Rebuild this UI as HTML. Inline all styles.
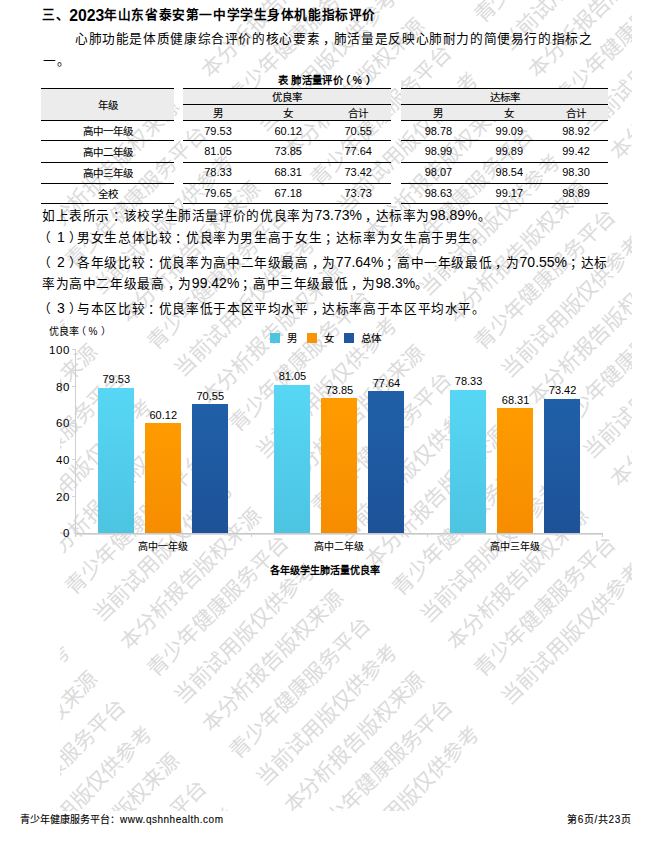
<!DOCTYPE html>
<html lang="zh-CN">
<head>
<meta charset="utf-8">
<style>
*{margin:0;padding:0;box-sizing:border-box}
html,body{width:652px;height:841px;background:#fff;overflow:hidden}
body{position:relative;font-family:"Liberation Sans",sans-serif;color:#000}
.a{position:absolute;white-space:nowrap}
.t{font-size:12.7px;line-height:20px;letter-spacing:0.62px}
.lp{position:relative;left:-4px}.rp{position:relative;left:5.5px}.dn{position:relative;left:1.3px}
.d{font-size:14px;letter-spacing:0;display:inline-block;transform:scaleY(1.08);transform-origin:0 80%}
.pu{position:relative;left:3px}
.title{left:42px;top:4.2px;font-size:12.7px;font-weight:bold;line-height:20px;letter-spacing:0.58px}
.cap{left:278px;top:71px;font-size:10.3px;font-weight:bold;line-height:20px;letter-spacing:0.3px}
.hl{position:absolute;height:1px;background:#000}
.gbg{position:absolute;background:#ececec}
.c{position:absolute;text-align:center;font-size:10.5px;line-height:20px;white-space:nowrap;padding-top:1px;-webkit-text-stroke:0.1px #000}
.n{font-size:11px;padding-top:0;-webkit-text-stroke:0}
.ax{position:absolute;font-size:11.5px;line-height:14px;text-align:right;width:30px;letter-spacing:0.7px;margin-left:2.2px}
.bar{position:absolute;width:36.2px}
.b1{background:linear-gradient(#57d7f5,#4cc4e2)}
.b2{background:linear-gradient(#ff9b00,#f68d00)}
.b3{background:linear-gradient(#2060a8,#1d5298)}
.vl{position:absolute;font-size:11px;line-height:14px;width:50px;text-align:center}
.xl{position:absolute;font-size:10px;line-height:14px;width:80px;text-align:center;padding-top:0.7px;-webkit-text-stroke:0.1px #000}
.lg{position:absolute;width:10px;height:10px}
.l1{background:#4cc4e2}.l2{background:#f89408}.l3{background:#1f589f}
.lt{position:absolute;font-size:10.5px;line-height:14px;-webkit-text-stroke:0.1px #000}
.foot{position:absolute;font-size:10px;line-height:14px;-webkit-text-stroke:0.1px #000}
.wm{position:absolute;left:0;top:0}
</style>
</head>
<body>
<svg class="wm" width="652" height="841" viewBox="0 0 652 841"><defs><clipPath id="wc"><rect x="60" y="0" width="572" height="811"/></clipPath></defs><g clip-path="url(#wc)"><g transform="rotate(-45)" font-family="Liberation Serif, serif" font-size="21" fill="#dbdbdb"><text x="-1293.00" y="204.17">本分析报告版权来源　　本分析报告版权来源　　本分析报告版权来源　　本分析报告版权来源　　本分析报告版权来源　　本分析报告版权来源　　本分析报告版权来源　　本分析报告版权来源　　本分析报告版权来源</text><text x="-1293.00" y="242.74">青少年健康服务平台　　青少年健康服务平台　　青少年健康服务平台　　青少年健康服务平台　　青少年健康服务平台　　青少年健康服务平台　　青少年健康服务平台　　青少年健康服务平台　　青少年健康服务平台</text><text x="-1293.00" y="281.31">当前试用版仅供参考　　当前试用版仅供参考　　当前试用版仅供参考　　当前试用版仅供参考　　当前试用版仅供参考　　当前试用版仅供参考　　当前试用版仅供参考　　当前试用版仅供参考　　当前试用版仅供参考</text><text x="-1293.00" y="319.88">本分析报告版权来源　　本分析报告版权来源　　本分析报告版权来源　　本分析报告版权来源　　本分析报告版权来源　　本分析报告版权来源　　本分析报告版权来源　　本分析报告版权来源　　本分析报告版权来源</text><text x="-1293.00" y="358.46">青少年健康服务平台　　青少年健康服务平台　　青少年健康服务平台　　青少年健康服务平台　　青少年健康服务平台　　青少年健康服务平台　　青少年健康服务平台　　青少年健康服务平台　　青少年健康服务平台</text><text x="-1293.00" y="397.03">当前试用版仅供参考　　当前试用版仅供参考　　当前试用版仅供参考　　当前试用版仅供参考　　当前试用版仅供参考　　当前试用版仅供参考　　当前试用版仅供参考　　当前试用版仅供参考　　当前试用版仅供参考</text><text x="-1293.00" y="435.60">本分析报告版权来源　　本分析报告版权来源　　本分析报告版权来源　　本分析报告版权来源　　本分析报告版权来源　　本分析报告版权来源　　本分析报告版权来源　　本分析报告版权来源　　本分析报告版权来源</text><text x="-1293.00" y="474.18">青少年健康服务平台　　青少年健康服务平台　　青少年健康服务平台　　青少年健康服务平台　　青少年健康服务平台　　青少年健康服务平台　　青少年健康服务平台　　青少年健康服务平台　　青少年健康服务平台</text><text x="-1293.00" y="512.75">当前试用版仅供参考　　当前试用版仅供参考　　当前试用版仅供参考　　当前试用版仅供参考　　当前试用版仅供参考　　当前试用版仅供参考　　当前试用版仅供参考　　当前试用版仅供参考　　当前试用版仅供参考</text><text x="-1293.00" y="551.32">本分析报告版权来源　　本分析报告版权来源　　本分析报告版权来源　　本分析报告版权来源　　本分析报告版权来源　　本分析报告版权来源　　本分析报告版权来源　　本分析报告版权来源　　本分析报告版权来源</text><text x="-1293.00" y="589.89">青少年健康服务平台　　青少年健康服务平台　　青少年健康服务平台　　青少年健康服务平台　　青少年健康服务平台　　青少年健康服务平台　　青少年健康服务平台　　青少年健康服务平台　　青少年健康服务平台</text><text x="-1293.00" y="628.47">当前试用版仅供参考　　当前试用版仅供参考　　当前试用版仅供参考　　当前试用版仅供参考　　当前试用版仅供参考　　当前试用版仅供参考　　当前试用版仅供参考　　当前试用版仅供参考　　当前试用版仅供参考</text><text x="-1293.00" y="667.04">本分析报告版权来源　　本分析报告版权来源　　本分析报告版权来源　　本分析报告版权来源　　本分析报告版权来源　　本分析报告版权来源　　本分析报告版权来源　　本分析报告版权来源　　本分析报告版权来源</text><text x="-1293.00" y="705.61">青少年健康服务平台　　青少年健康服务平台　　青少年健康服务平台　　青少年健康服务平台　　青少年健康服务平台　　青少年健康服务平台　　青少年健康服务平台　　青少年健康服务平台　　青少年健康服务平台</text><text x="-1293.00" y="744.18">当前试用版仅供参考　　当前试用版仅供参考　　当前试用版仅供参考　　当前试用版仅供参考　　当前试用版仅供参考　　当前试用版仅供参考　　当前试用版仅供参考　　当前试用版仅供参考　　当前试用版仅供参考</text><text x="-1293.00" y="782.76">本分析报告版权来源　　本分析报告版权来源　　本分析报告版权来源　　本分析报告版权来源　　本分析报告版权来源　　本分析报告版权来源　　本分析报告版权来源　　本分析报告版权来源　　本分析报告版权来源</text><text x="-1293.00" y="821.33">青少年健康服务平台　　青少年健康服务平台　　青少年健康服务平台　　青少年健康服务平台　　青少年健康服务平台　　青少年健康服务平台　　青少年健康服务平台　　青少年健康服务平台　　青少年健康服务平台</text><text x="-1293.00" y="859.90">当前试用版仅供参考　　当前试用版仅供参考　　当前试用版仅供参考　　当前试用版仅供参考　　当前试用版仅供参考　　当前试用版仅供参考　　当前试用版仅供参考　　当前试用版仅供参考　　当前试用版仅供参考</text></g></g></svg>
<div class="a title">三、<span style="font-size:15.8px;letter-spacing:0;position:relative;top:1.9px">2023</span>年山东省泰安第一中学学生身体机能指标评价</div>
<div class="a t" style="left:75px;top:29px">心肺功能是体质健康综合评价的核心要素<span class="pu">，</span>肺活量是反映心肺耐力的简便易行的指标之</div>
<div class="a t" style="left:43px;top:51.4px">一。</div>
<div class="a cap">表 肺活量评价<span style="margin-left:-3px">（</span><span style="margin:0 4px 0 2.4px;letter-spacing:0">%</span>）</div>

<!-- table backgrounds -->
<div class="gbg" style="left:41px;top:89px;width:133px;height:31px"></div>
<div class="gbg" style="left:183px;top:89px;width:208px;height:31px"></div>
<div class="gbg" style="left:401px;top:89px;width:207px;height:31px"></div>
<!-- lines group1 -->
<div class="hl" style="left:41px;width:133px;top:88px"></div>
<div class="hl" style="left:41px;width:133px;top:120px"></div>
<div class="hl" style="left:41px;width:133px;top:140px"></div>
<div class="hl" style="left:41px;width:133px;top:162px"></div>
<div class="hl" style="left:41px;width:133px;top:183px"></div>
<div class="hl" style="left:41px;width:133px;top:203px"></div>
<!-- group2 -->
<div class="hl" style="left:183px;width:208px;top:88px"></div>
<div class="hl" style="left:183px;width:208px;top:104px"></div>
<div class="hl" style="left:183px;width:208px;top:120px"></div>
<div class="hl" style="left:183px;width:208px;top:140px"></div>
<div class="hl" style="left:183px;width:208px;top:162px"></div>
<div class="hl" style="left:183px;width:208px;top:183px"></div>
<div class="hl" style="left:183px;width:208px;top:203px"></div>
<!-- group3 -->
<div class="hl" style="left:401px;width:207px;top:88px"></div>
<div class="hl" style="left:401px;width:207px;top:104px"></div>
<div class="hl" style="left:401px;width:207px;top:120px"></div>
<div class="hl" style="left:401px;width:207px;top:140px"></div>
<div class="hl" style="left:401px;width:207px;top:162px"></div>
<div class="hl" style="left:401px;width:207px;top:183px"></div>
<div class="hl" style="left:401px;width:207px;top:203px"></div>

<!-- header text -->
<div class="c" style="left:41px;width:133px;top:94px">年级</div>
<div class="c" style="left:183px;width:208px;top:86px">优良率</div>
<div class="c" style="left:401px;width:207px;top:86px">达标率</div>
<div class="c" style="left:183.0px;width:70px;top:102px">男</div>
<div class="c" style="left:253.2px;width:70px;top:102px">女</div>
<div class="c" style="left:323.2px;width:70px;top:102px">合计</div>
<div class="c" style="left:403.4px;width:70px;top:102px">男</div>
<div class="c" style="left:474.3px;width:70px;top:102px">女</div>
<div class="c" style="left:541.0px;width:70px;top:102px">合计</div>

<!-- rows -->
<div class="c" style="left:41px;width:133px;top:120px">高中一年级</div>
<div class="c" style="left:41px;width:133px;top:141px">高中二年级</div>
<div class="c" style="left:41px;width:133px;top:162px">高中三年级</div>
<div class="c" style="left:41px;width:133px;top:183px">全校</div>

<div class="c n" style="left:183.0px;width:70px;top:121px">79.53</div>
<div class="c n" style="left:253.2px;width:70px;top:121px">60.12</div>
<div class="c n" style="left:323.2px;width:70px;top:121px">70.55</div>
<div class="c n" style="left:403.4px;width:70px;top:121px">98.78</div>
<div class="c n" style="left:474.3px;width:70px;top:121px">99.09</div>
<div class="c n" style="left:541.0px;width:70px;top:121px">98.92</div>

<div class="c n" style="left:183.0px;width:70px;top:141px">81.05</div>
<div class="c n" style="left:253.2px;width:70px;top:141px">73.85</div>
<div class="c n" style="left:323.2px;width:70px;top:141px">77.64</div>
<div class="c n" style="left:403.4px;width:70px;top:141px">98.99</div>
<div class="c n" style="left:474.3px;width:70px;top:141px">99.89</div>
<div class="c n" style="left:541.0px;width:70px;top:141px">99.42</div>

<div class="c n" style="left:183.0px;width:70px;top:162px">78.33</div>
<div class="c n" style="left:253.2px;width:70px;top:162px">68.31</div>
<div class="c n" style="left:323.2px;width:70px;top:162px">73.42</div>
<div class="c n" style="left:403.4px;width:70px;top:162px">98.07</div>
<div class="c n" style="left:474.3px;width:70px;top:162px">98.54</div>
<div class="c n" style="left:541.0px;width:70px;top:162px">98.30</div>

<div class="c n" style="left:183.0px;width:70px;top:183px">79.65</div>
<div class="c n" style="left:253.2px;width:70px;top:183px">67.18</div>
<div class="c n" style="left:323.2px;width:70px;top:183px">73.73</div>
<div class="c n" style="left:403.4px;width:70px;top:183px">98.63</div>
<div class="c n" style="left:474.3px;width:70px;top:183px">99.17</div>
<div class="c n" style="left:541.0px;width:70px;top:183px">98.89</div>

<!-- paragraphs -->
<div class="a t" style="left:42px;top:205px">如上表所示<span class="pu">：</span>该校学生肺活量评价的优良率为<span class="d">73.73%</span><span class="pu">，</span>达标率为<span class="d">98.89%</span>。</div>
<div class="a t" style="left:42px;top:227px"><span class="lp">（</span><span class="d dn">1</span><span class="rp">）</span>男女生总体比较<span class="pu">：</span>优良率为男生高于女生<span class="pu">；</span>达标率为女生高于男生。</div>
<div class="a t" style="left:42px;top:252px"><span class="lp">（</span><span class="d dn">2</span><span class="rp">）</span>各年级比较<span class="pu">：</span>优良率为高中二年级最高<span class="pu">，</span>为<span class="d">77.64%</span><span class="pu">；</span>高中一年级最低<span class="pu">，</span>为<span class="d">70.55%</span><span class="pu">；</span>达标</div>
<div class="a t" style="left:42px;top:273px">率为高中二年级最高<span class="pu">，</span>为<span class="d">99.42%</span><span class="pu">；</span>高中三年级最低<span class="pu">，</span>为<span class="d">98.3%</span>。</div>
<div class="a t" style="left:42px;top:298px"><span class="lp">（</span><span class="d dn">3</span><span class="rp">）</span>与本区比较<span class="pu">：</span>优良率低于本区平均水平<span class="pu">，</span>达标率高于本区平均水平。</div>

<!-- chart -->
<div class="a" style="left:49px;top:325px;font-size:10px;line-height:14px">优良率<span style="margin-left:-3px">（</span><span style="margin:0 4px 0 2.4px">%</span>）</div>
<div class="lg l1" style="left:270px;top:333px"></div>
<div class="lt" style="left:287px;top:331px">男</div>
<div class="lg l2" style="left:307px;top:333px"></div>
<div class="lt" style="left:324px;top:331px">女</div>
<div class="lg l3" style="left:344px;top:333px"></div>
<div class="lt" style="left:361px;top:331px">总体</div>

<div class="ax" style="left:38px;top:343px">100</div>
<div class="ax" style="left:38px;top:380px">80</div>
<div class="ax" style="left:38px;top:416px">60</div>
<div class="ax" style="left:38px;top:453px">40</div>
<div class="ax" style="left:38px;top:490px">20</div>
<div class="ax" style="left:38px;top:526px">0</div>
<div style="position:absolute;left:72px;top:349px;width:3px;height:1px;background:#d4d4d4"></div><div style="position:absolute;left:72px;top:386px;width:3px;height:1px;background:#d4d4d4"></div><div style="position:absolute;left:72px;top:423px;width:3px;height:1px;background:#d4d4d4"></div><div style="position:absolute;left:72px;top:459px;width:3px;height:1px;background:#d4d4d4"></div><div style="position:absolute;left:72px;top:496px;width:3px;height:1px;background:#d4d4d4"></div>
<div style="position:absolute;left:75px;top:349px;width:1px;height:188px;background:#cfcfcf"></div>
<div style="position:absolute;left:75px;top:533px;width:528px;height:1px;background:#c8c8c8"></div>
<div style="position:absolute;left:75px;top:534px;width:528px;height:1px;background:#dcdcdc"></div>
<div style="position:absolute;left:251px;top:534px;width:1px;height:3px;background:#d0d0d0"></div>
<div style="position:absolute;left:427px;top:534px;width:1px;height:3px;background:#d0d0d0"></div>
<div style="position:absolute;left:602px;top:534px;width:1px;height:3px;background:#d0d0d0"></div>

<!-- bars -->
<div class="bar b1" style="left:98.00px;top:387.66px;height:145.74px"></div>
<div class="bar b2" style="left:145.00px;top:423.28px;height:110.12px"></div>
<div class="bar b3" style="left:192.00px;top:404.14px;height:129.26px"></div>
<div class="bar b1" style="left:274.20px;top:384.87px;height:148.53px"></div>
<div class="bar b2" style="left:321.20px;top:398.09px;height:135.31px"></div>
<div class="bar b3" style="left:368.20px;top:391.13px;height:142.27px"></div>
<div class="bar b1" style="left:450.30px;top:389.86px;height:143.54px"></div>
<div class="bar b2" style="left:497.30px;top:408.25px;height:125.15px"></div>
<div class="bar b3" style="left:544.30px;top:398.87px;height:134.53px"></div>

<div class="vl" style="left:91.25px;top:372.16px">79.53</div>
<div class="vl" style="left:138.25px;top:407.78px">60.12</div>
<div class="vl" style="left:185.25px;top:388.64px">70.55</div>
<div class="vl" style="left:267.45px;top:369.37px">81.05</div>
<div class="vl" style="left:314.45px;top:382.59px">73.85</div>
<div class="vl" style="left:361.45px;top:375.63px">77.64</div>
<div class="vl" style="left:443.55px;top:374.36px">78.33</div>
<div class="vl" style="left:490.55px;top:392.75px">68.31</div>
<div class="vl" style="left:537.55px;top:383.37px">73.42</div>

<div class="xl" style="left:123px;top:539px">高中一年级</div>
<div class="xl" style="left:299px;top:539px">高中二年级</div>
<div class="xl" style="left:475px;top:539px">高中三年级</div>
<div class="a" style="left:270px;top:563.5px;font-size:10px;line-height:14px;font-weight:bold">各年级学生肺活量优良率</div>

<div class="foot" style="left:20px;top:813px">青少年健康服务平台：<span style="letter-spacing:0.5px">www.qshnhealth.com</span></div>
<div class="foot" style="left:567px;top:813px;letter-spacing:0.65px">第6页/共23页</div>
</body>
</html>
